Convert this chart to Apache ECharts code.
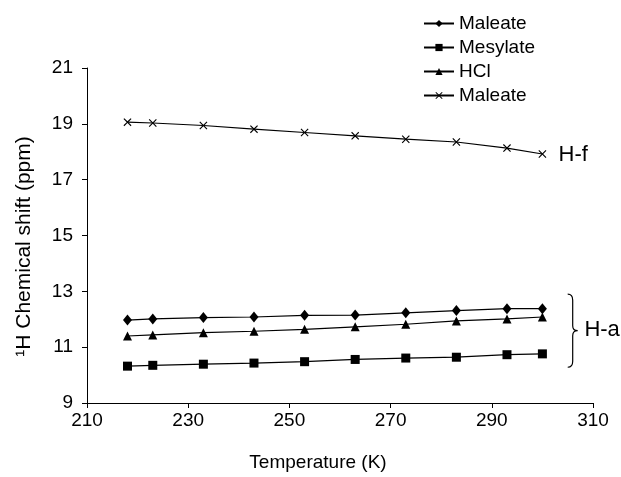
<!DOCTYPE html>
<html>
<head>
<meta charset="utf-8">
<script src="https://cdn.jsdelivr.net/npm/echarts@6/dist/echarts.min.js"></script>
<style>
  html, body { margin: 0; padding: 0; background: #fff; }
  #chart { width: 621px; height: 477px; }
</style>
</head>
<body>
<div id="chart"></div>
<script>
// temperatures (K)
const temps = [218, 223, 233, 243, 253, 263, 273, 283, 293, 300];

// 1H chemical shift (ppm)
const maleateHa = [11.97, 12.01, 12.06, 12.08, 12.14, 12.15, 12.23, 12.31, 12.38, 12.38];
const mesylateHa = [10.32, 10.35, 10.39, 10.43, 10.48, 10.56, 10.61, 10.64, 10.73, 10.76];
const hclHa = [11.40, 11.44, 11.52, 11.57, 11.64, 11.73, 11.82, 11.94, 12.01, 12.08];
const maleateHf = [19.06, 19.03, 18.94, 18.81, 18.69, 18.57, 18.45, 18.35, 18.13, 17.92];

const xTicks = [210, 230, 250, 270, 290, 310];
const yTicks = [9, 11, 13, 15, 17, 19, 21];

// annotation anchors in data units: [x, y, label]
const labels = [[303.2, 17.9, 'H-f'], [308.3, 11.62, 'H-a']];
// brace: x of tips, y top, y bottom
const brace = [305, 12.9, 10.28];

const FONT = 'Liberation Sans, Arial, sans-serif';
const CROSS = 'path://M0,1L1,0L5,4L9,0L10,1L6,5L10,9L9,10L5,6L1,10L0,9L4,5Z';

const pair = (ys) => temps.map((t, i) => [t, ys[i]]);

const lineSeries = (name, data, symbol, size) => ({
    name: name,
    type: 'line',
    data: pair(data),
    symbol: symbol,
    symbolSize: size,
    showAllSymbol: true,
    itemStyle: { color: '#000' },
    lineStyle: { color: '#000', width: 1.2 },
    emphasis: { disabled: true },
    animation: false
});

const chartDom = document.getElementById('chart');
const myChart = echarts.init(chartDom, null, { renderer: 'canvas' });

const option = {
    animation: false,
    backgroundColor: '#fff',
    textStyle: { fontFamily: FONT },
    grid: { left: 87, right: 28, top: 68, bottom: 73 },
    legend: {
        orient: 'vertical',
        left: 423,
        top: 14,
        padding: 0,
        itemWidth: 30,
        itemHeight: 9,
        itemGap: 5,
        textStyle: { fontFamily: FONT, fontSize: 19, color: '#000' },
        formatter: (n) => n.trim(),
        data: ['Maleate', 'Mesylate', 'HCl', 'Maleate ']
    },
    xAxis: {
        type: 'value',
        min: 210,
        max: 310,
        interval: 20,
        name: 'Temperature (K)',
        nameLocation: 'middle',
        nameGap: 50,
        nameTextStyle: { fontFamily: FONT, fontSize: 19, color: '#000', padding: [0, 44, 0, 0] },
        axisLine: { lineStyle: { color: '#000', width: 1 } },
        axisTick: { length: 5, lineStyle: { color: '#000' } },
        axisLabel: {
            fontFamily: FONT, fontSize: 19, color: '#000', margin: 8,
            formatter: (v) => xTicks.includes(v) ? String(v) : ''
        },
        splitLine: { show: false }
    },
    yAxis: {
        type: 'value',
        min: 9,
        max: 21,
        interval: 2,
        name: '\u00b9H Chemical shift (ppm)',
        nameLocation: 'middle',
        nameGap: 52,
        nameRotate: 90,
        nameTextStyle: { fontFamily: FONT, fontSize: 21, color: '#000', padding: [0, 22, 0, 0] },
        axisLine: { show: true, lineStyle: { color: '#000', width: 1 } },
        axisTick: { show: true, length: 5, lineStyle: { color: '#000' } },
        axisLabel: {
            fontFamily: FONT, fontSize: 19, color: '#000', margin: 14,
            formatter: (v) => yTicks.includes(v) ? String(v) : ''
        },
        splitLine: { show: false }
    },
    series: [
        lineSeries('Maleate', maleateHa, 'diamond', [9, 11]),
        lineSeries('Mesylate', mesylateHa, 'rect', 9),
        lineSeries('HCl', hclHa, 'triangle', 9),
        lineSeries('Maleate ', maleateHf, CROSS, 8),
        {
            type: 'custom',
            name: 'annotations',
            silent: true,
            clip: false,
            data: [0],
            renderItem: function (params, api) {
                const children = labels.map(function (l) {
                    const p = api.coord([l[0], l[1]]);
                    return {
                        type: 'text',
                        style: {
                            x: p[0], y: p[1], text: l[2],
                            fontFamily: FONT, fontSize: 22, fill: '#000',
                            align: 'left', verticalAlign: 'middle'
                        }
                    };
                });
                const top = api.coord([brace[0], brace[1]]);
                const bot = api.coord([brace[0], brace[2]]);
                const x0 = top[0], y0 = top[1], y1 = bot[1];
                const ym = (y0 + y1) / 2;
                const xb = x0 + 5, xm = x0 + 10;
                const path =
                    'M' + x0 + ',' + y0 +
                    ' Q' + xb + ',' + y0 + ' ' + xb + ',' + (y0 + 6) +
                    ' L' + xb + ',' + (ym - 5) +
                    ' Q' + xb + ',' + ym + ' ' + xm + ',' + ym +
                    ' Q' + xb + ',' + ym + ' ' + xb + ',' + (ym + 5) +
                    ' L' + xb + ',' + (y1 - 6) +
                    ' Q' + xb + ',' + y1 + ' ' + x0 + ',' + y1;
                children.push({
                    type: 'path',
                    shape: { pathData: path },
                    style: { fill: 'none', stroke: '#000', lineWidth: 1.2 }
                });
                return { type: 'group', children: children };
            }
        }
    ]
};

myChart.setOption(option);
</script>
</body>
</html>
